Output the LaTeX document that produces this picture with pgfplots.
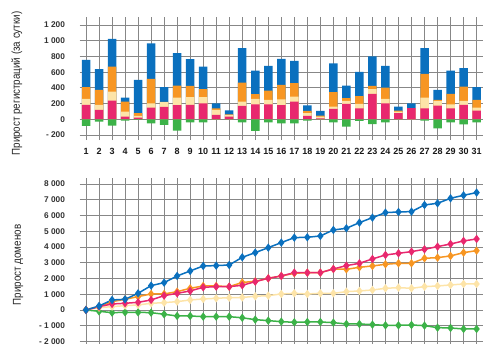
\documentclass[border=0pt]{standalone}
\usepackage{pgfplots}
\pgfplotsset{compat=1.18}
\usepackage{fontspec}
\setmainfont{Liberation Sans}
\newfontfamily\narrowfont[FakeStretch=0.86]{Liberation Sans}
\definecolor{cblue}{RGB}{10,112,190}
\definecolor{corange}{RGB}{247,150,35}
\definecolor{cpale}{RGB}{253,228,168}
\definecolor{cpink}{RGB}{232,40,110}
\definecolor{cgreen}{RGB}{60,178,72}
\definecolor{cgrid}{RGB}{135,135,135}
\definecolor{ctick}{RGB}{50,50,50}
\pgfplotstableread{
d pink pale orange blue green
1 183 260 408 757 -85
2 119 183 374 638 -30
3 238 353 672 1025 -81
4 34 98 226 277 -17
5 21 43 77 502 -8
6 149 204 515 966 -51
7 157 220 222 411 -72
8 179 277 430 842 -145
9 183 281 426 766 -38
10 204 281 383 672 -38
11 55 119 140 204 -3
12 34 55 64 115 -5
13 170 226 468 906 -38
14 191 260 319 621 -149
15 191 247 366 681 -38
16 179 255 438 770 -51
17 226 289 460 745 -51
18 43 77 106 176 -17
19 13 34 47 106 -4
20 132 162 345 711 -38
21 196 234 268 430 -94
22 140 196 294 604 -21
23 323 383 426 800 -60
24 204 260 404 681 -38
25 77 98 111 162 -3
26 142 142 142 204 -2
27 140 277 579 906 -17
28 174 234 247 374 -115
29 140 191 323 621 -38
30 183 234 417 651 -64
31 111 149 247 408 -38
}\daily
\pgfplotstableread{
d blue pink orange pale green
1 0 0 0 0 0
2 254 212 212 148 -85
3 636 381 530 212 -170
4 678 424 678 275 -148
5 1059 487 848 318 -148
6 1547 636 1017 424 -170
7 1737 911 1017 466 -275
8 2161 1059 1165 530 -381
9 2479 1208 1377 636 -381
10 2797 1441 1526 699 -424
11 2818 1483 1526 742 -424
12 2860 1483 1483 784 -424
13 3347 1568 1748 795 -498
14 3644 1801 1822 870 -614
15 3962 2013 2013 911 -678
16 4280 2161 2161 1017 -742
17 4598 2373 2331 1059 -784
18 4619 2373 2373 1017 -763
19 4704 2373 2373 1059 -763
20 5085 2606 2606 1059 -805
21 5191 2818 2585 1165 -890
22 5551 2966 2712 1208 -890
23 5869 3242 2797 1271 -932
24 6187 3496 2903 1377 -975
25 6229 3602 2966 1420 -975
26 6250 3708 2966 1377 -954
27 6674 3856 3284 1483 -996
28 6780 4026 3327 1526 -1123
29 7098 4195 3433 1589 -1144
30 7289 4386 3644 1653 -1208
31 7458 4513 3771 1653 -1208
}\cumul
\pgfplotsset{
  common/.style={
    anchor=south west, scale only axis, width=403.6pt,
    xmin=0.5, xmax=31.5, xtick={1,...,31},
    /pgf/number format/assume math mode=true,
    xmajorgrids, ymajorgrids,
    major grid style={cgrid, line width=0.85pt},
    axis line style={draw=none}, tick style={draw=none},
    yticklabel style={font=\bfseries\fontsize{8.3}{9}\selectfont, text=ctick, xshift=-11pt},
    ylabel style={font=\narrowfont\fontsize{11.4}{12}\selectfont, text=black!85},
  }
}
\begin{document}
\begin{tikzpicture}
\useasboundingbox (0pt,0pt) rectangle (500pt,359pt);
\begin{axis}[common, at={(79.5pt,218.9pt)}, height=122.9pt,
  ymin=-265, ymax=1300,
  ytick={-200,0,200,400,600,800,1000,1200},
  yticklabels={- 200,0,200,400,600,800,1 000,1 200},
  xticklabels={1,2,3,4,5,6,7,8,9,10,11,12,13,14,15,16,17,18,19,20,21,22,23,24,25,26,27,28,29,30,31},
  xticklabel style={font=\bfseries\fontsize{9}{10}\selectfont, text=black!90},
  ylabel={Прирост регистраций (за сутки)},
  ylabel style={at={(axis description cs:-0.155,0.46)}, anchor=center},
  ybar, bar width=8.5pt]
\addplot[fill=cblue, draw=none, bar shift=0pt] table[x=d,y=blue]{\daily};
\addplot[fill=corange, draw=none, bar shift=0pt] table[x=d,y=orange]{\daily};
\addplot[fill=cpale, draw=none, bar shift=0pt] table[x=d,y=pale]{\daily};
\addplot[fill=cpink, draw=none, bar shift=0pt] table[x=d,y=pink]{\daily};
\addplot[fill=cgreen, draw=none, bar shift=0pt] table[x=d,y=green]{\daily};
\end{axis}
\begin{axis}[common, at={(79.5pt,15.2pt)}, height=166pt,
  ymin=-2150, ymax=8400,
  ytick={-2000,-1000,0,1000,2000,3000,4000,5000,6000,7000,8000},
  yticklabels={- 2 000,- 1 000,0,1 000,2 000,3 000,4 000,5 000,6 000,7 000,8 000},
  xticklabels={},
  ylabel={Прирост доменов},
  ylabel style={at={(axis description cs:-0.152,0.475)}, anchor=center}]
\addplot[cgreen, line width=1.5pt, mark=diamond*, mark size=3pt] table[x=d,y=green]{\cumul};
\addplot[cpale, line width=1.5pt, mark=diamond*, mark size=3pt] table[x=d,y=pale]{\cumul};
\addplot[corange, line width=1.5pt, mark=diamond*, mark size=3pt] table[x=d,y=orange]{\cumul};
\addplot[cpink, line width=1.5pt, mark=diamond*, mark size=3pt] table[x=d,y=pink]{\cumul};
\addplot[cblue, line width=1.5pt, mark=diamond*, mark size=3pt] table[x=d,y=blue]{\cumul};
\end{axis}
\end{tikzpicture}
\end{document}
